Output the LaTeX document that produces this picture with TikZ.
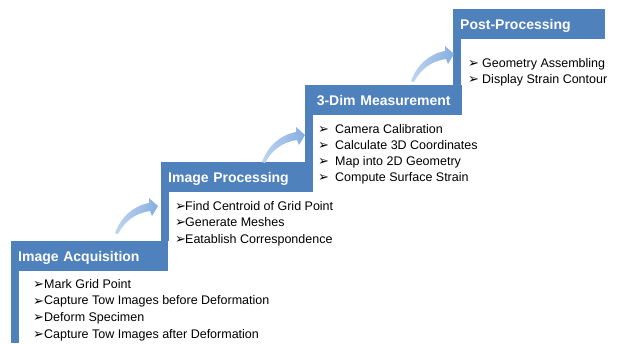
\documentclass[tikz,border=0pt]{standalone}
\usepackage{fontspec}
\setmainfont{Liberation Sans}
\newfontfamily\dingfont{DejaVu Sans}
\usepackage{tikz}
\usetikzlibrary{calc}
\definecolor{headblue}{RGB}{79,129,189}
\definecolor{arrowlight}{RGB}{190,212,240}
\definecolor{arrowblue}{RGB}{133,174,224}
\newcommand{\bul}[1]{\makebox[#1][l]{\raisebox{-0.3pt}{\fontsize{13}{13}\dingfont ➢}}}
\tikzset{head/.style={fill=headblue, text=white, font=\fontsize{14}{16}\selectfont\bfseries, anchor=north west, minimum height=30pt, inner xsep=7pt, inner ysep=0pt, text height=10pt, text depth=0pt, align=left}}
\tikzset{item/.style={anchor=base west, inner sep=0pt, font=\fontsize{12.5}{14}\selectfont}}
\tikzset{bendarrow/.pic={\shade[left color=arrowlight, right color=arrowblue] (0,0) .. controls (6,-16) and (18,-27) .. (34,-30) -- (34,-35) -- (43,-27) -- (37,-17) -- (35,-22) .. controls (20,-20) and (9,-11) .. (3,1) -- cycle;}}

\begin{document}
\begin{tikzpicture}[x=1pt, y=-1pt]
	\useasboundingbox (0,0) rectangle (618,343);
	\node[head, text width=143pt] (acq) at (11,241) {Image Acquisition};
	\node[head, text width=138pt] (proc) at (161,162) {Image Processing};
	\node[head, text width=143pt, align=center] (meas) at (305,85) {3-Dim Measurement};
	\node[head, text width=138pt] (post) at (453,9) {Post-Processing};
	\fill[headblue] (acq.north west) rectangle ++(8,102);
	\fill[headblue] (proc.north west) rectangle ++(8,79);
	\fill[headblue] (meas.north west) rectangle ++(8,77);
	\fill[headblue] (post.north west) rectangle ++(8,76);
	\coordinate (arr1) at (115,233);
	\coordinate (arr2) at (262,162);
	\coordinate (arr3) at (411,81);
	\pic at (arr1) {bendarrow};
	\pic at (arr2) {bendarrow};
	\pic at (arr3) {bendarrow};
	\foreach \txt [count=\i] in {Mark Grid Point, Capture Tow Images before Deformation, Deform Specimen, Capture Tow Images after Deformation}
		\node[item] (acq\i) at (33,{288+16.7*(\i-1)}) {\bul{11pt}\txt};
	\foreach \txt [count=\i] in {Find Centroid of Grid Point, Generate Meshes, Eatablish Correspondence}
		\node[item] (proc\i) at (175,{210+16.5*(\i-1)}) {\bul{10pt}\txt};
	\foreach \txt [count=\i] in {Camera Calibration, Calculate 3D Coordinates, Map into 2D Geometry, Compute Surface Strain}
		\node[item] (meas\i) at (318,{133+16*(\i-1)}) {\bul{17pt}\txt};
	\foreach \txt [count=\i] in {Geometry Assembling, Display Strain Contour}
		\node[item] (post\i) at (468,{67+16*(\i-1)}) {\bul{14pt}\txt};
\end{tikzpicture}
\end{document}
